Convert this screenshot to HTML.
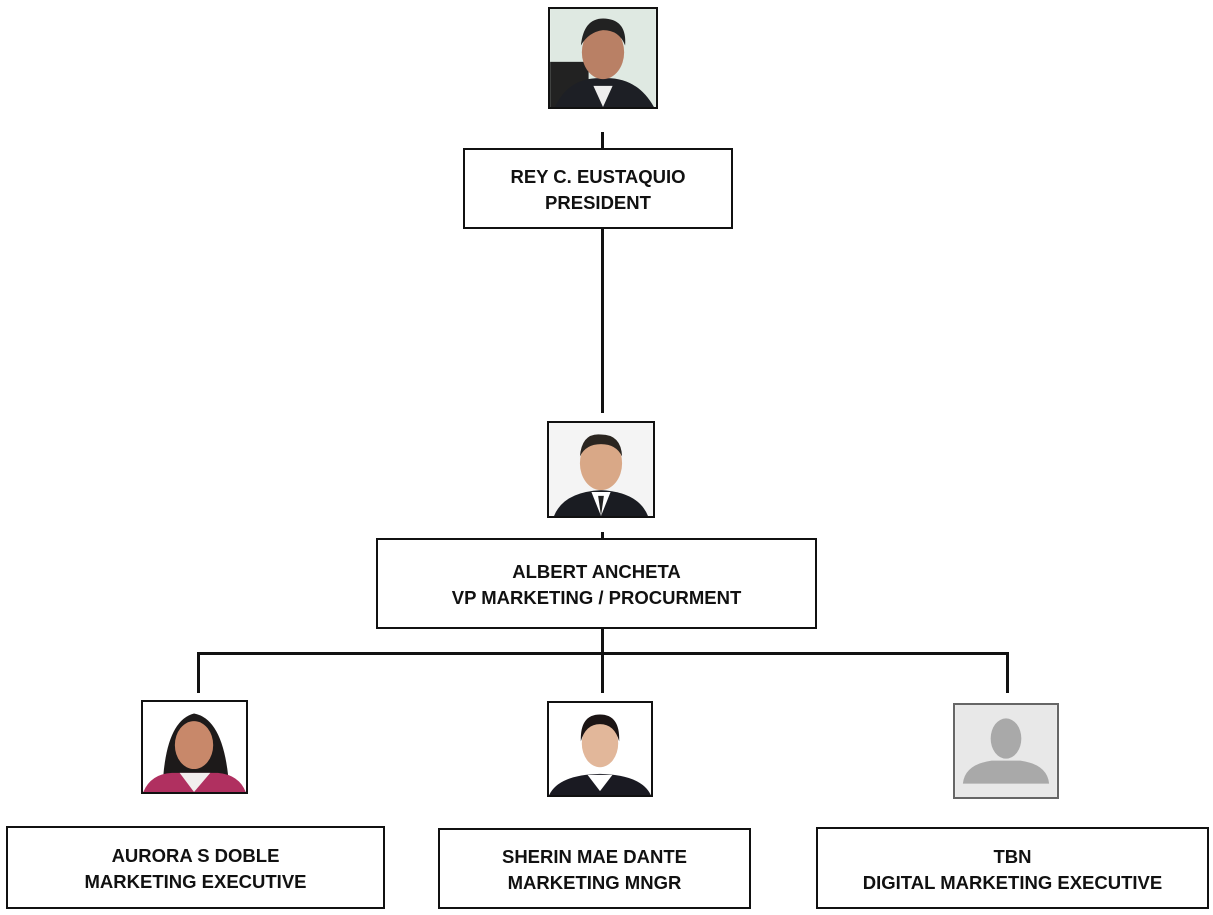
<!DOCTYPE html>
<html><head><style>
body{margin:0;width:1213px;height:915px;background:#fff;position:relative;overflow:hidden;font-family:"Liberation Sans",sans-serif}
.b{position:absolute;border:2.5px solid #111;box-sizing:border-box;display:flex;align-items:center;justify-content:center;text-align:center;font-weight:bold;font-size:18.5px;line-height:26px;color:#111;padding-top:3px}
.l{position:absolute;background:#111}
.p{position:absolute;border:2px solid #111;box-sizing:border-box;overflow:hidden}
.p svg{width:100%;height:100%;display:block}
</style></head><body>
<div class="p" style="left:548px;top:7px;width:110px;height:102px"><svg viewBox="0 0 110 102"><rect width="110" height="102" fill="#dfe9e2"/><rect x="0" y="55" width="40" height="47" fill="#222"/><path d="M5 102 Q20 70 55 72 Q90 70 108 102Z" fill="#1d1f25"/><path d="M45 80 L55 102 L65 80Z" fill="#eee"/><ellipse cx="55" cy="45" rx="22" ry="28" fill="#b98065"/><path d="M32 38 Q35 8 58 10 Q80 12 78 38 Q72 22 55 22 Q40 24 32 38Z" fill="#222"/></svg></div>
<div class="l" style="left:601px;top:132px;width:3px;height:16px"></div>
<div class="b" style="left:463px;top:148px;width:270px;height:81px">REY C. EUSTAQUIO<br>PRESIDENT</div>
<div class="l" style="left:601px;top:229px;width:3px;height:184px"></div>
<div class="p" style="left:547px;top:421px;width:108px;height:97px"><svg viewBox="0 0 108 97"><rect width="108" height="97" fill="#f4f4f4"/><path d="M5 97 Q15 72 54 70 Q93 72 103 97Z" fill="#1a1c22"/><path d="M44 72 L54 97 L64 72Z" fill="#fff"/><path d="M51 76 L54 97 L57 76Z" fill="#222"/><ellipse cx="54" cy="42" rx="22" ry="28" fill="#d9a887"/><path d="M32 35 Q34 10 54 12 Q75 12 76 35 Q70 22 54 22 Q38 22 32 35Z" fill="#2a2520"/></svg></div>
<div class="l" style="left:601px;top:532px;width:3px;height:6px"></div>
<div class="b" style="left:376px;top:538px;width:441px;height:91px">ALBERT ANCHETA<br>VP MARKETING / PROCURMENT</div>
<div class="l" style="left:601px;top:629px;width:3px;height:25px"></div>
<div class="l" style="left:197px;top:652px;width:812px;height:3px"></div>
<div class="l" style="left:197px;top:652px;width:3px;height:41px"></div>
<div class="l" style="left:601px;top:652px;width:3px;height:41px"></div>
<div class="l" style="left:1006px;top:652px;width:3px;height:41px"></div>
<div class="p" style="left:141px;top:700px;width:107px;height:94px"><svg viewBox="0 0 107 94"><rect width="107" height="94" fill="#fff"/><path d="M20 94 Q22 20 53 12 Q86 18 90 94Z" fill="#1d1a1a"/><path d="M0 94 Q8 75 30 74 L78 74 Q100 76 107 94Z" fill="#b03060"/><path d="M38 74 L53 94 L70 74Z" fill="#f2eeee"/><ellipse cx="53" cy="45" rx="20" ry="25" fill="#c8886a"/></svg></div>
<div class="p" style="left:547px;top:701px;width:106px;height:96px"><svg viewBox="0 0 106 96"><rect width="106" height="96" fill="#fff"/><path d="M0 96 Q10 75 53 74 Q96 75 106 96Z" fill="#1a1a22"/><path d="M40 75 L53 92 L66 75Z" fill="#fff"/><ellipse cx="53" cy="42" rx="19" ry="25" fill="#e2b79a"/><path d="M33 40 Q32 12 53 12 Q74 12 73 40 Q68 22 53 22 Q38 22 33 40Z" fill="#1b1414"/></svg></div>
<div class="p" style="left:953px;top:703px;width:106px;height:96px;border-color:#666"><svg viewBox="0 0 106 96"><rect width="106" height="96" fill="#e8e8e8"/><path d="M8 82 Q10 62 38 58 L68 58 Q96 62 98 82Z" fill="#a9a9a9"/><ellipse cx="53" cy="35" rx="16" ry="21" fill="#a9a9a9"/></svg></div>
<div class="b" style="left:6px;top:826px;width:379px;height:83px">AURORA S DOBLE<br>MARKETING EXECUTIVE</div>
<div class="b" style="left:438px;top:828px;width:313px;height:81px">SHERIN MAE DANTE<br>MARKETING MNGR</div>
<div class="b" style="left:816px;top:827px;width:393px;height:82px">TBN<br>DIGITAL MARKETING EXECUTIVE</div>
</body></html>
